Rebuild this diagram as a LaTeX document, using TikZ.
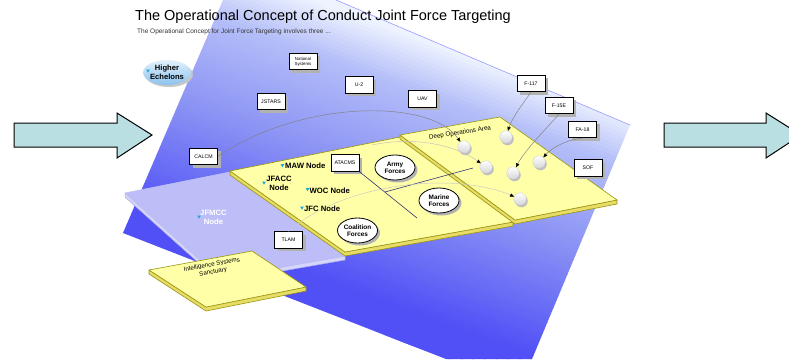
\documentclass[tikz,border=0pt]{standalone}
\usepackage{fontspec}
\setmainfont{Liberation Sans}
\usetikzlibrary{arrows.meta,shadows,shapes.geometric}
\definecolor{arrowfill}{HTML}{BADFE2}
\definecolor{plateY}{HTML}{FFFFA8}
\definecolor{plateYside}{HTML}{E6DC66}
\definecolor{plateYedge}{HTML}{9A9410}
\definecolor{lav}{HTML}{BDBDF8}
\definecolor{lavside}{HTML}{D6D6FB}
\definecolor{lavedge}{HTML}{A4A6EC}
\definecolor{bDk}{HTML}{5050F6}
\definecolor{bM}{HTML}{8C94F4}
\definecolor{bLM}{HTML}{B4BEF8}
\definecolor{bL}{HTML}{EEF3FF}
\definecolor{markc}{HTML}{1CA8DC}
\definecolor{echTop}{HTML}{E2F1FC}
\definecolor{echBot}{HTML}{8CC2EE}
\tikzset{
  bigarrow/.style={draw=black, line width=1pt, fill=arrowfill, line join=miter},
  sysbox/.style={draw=black, line width=0.75pt, fill=white, minimum width=28pt, minimum height=16.5pt,
    inner sep=0pt, align=center, font=\fontsize{5.2}{5.6}\selectfont,
    drop shadow={shadow xshift=3pt, shadow yshift=-3pt, fill=black!30, opacity=1}},
  force/.style={ellipse, draw=black, line width=0.8pt, fill=white, minimum width=40pt, minimum height=25pt,
    inner sep=0pt, align=center, font=\bfseries\fontsize{6.4}{7.2}\selectfont,
    drop shadow={shadow xshift=2.5pt, shadow yshift=-2.5pt, fill=black!30, opacity=1}},
  cyl/.style={circle, minimum size=12.5pt, inner sep=0pt, top color=white, bottom color=black!16, draw=black!22, line width=0.3pt,
    drop shadow={shadow xshift=1.5pt, shadow yshift=-2pt, fill=black!25, opacity=1}},
  nodelbl/.style={font=\bfseries\fontsize{7.7}{8.6}\selectfont, inner sep=0pt, align=center},
  conn/.style={draw=black!50, line width=0.45pt, -{Triangle[length=4pt,width=3.4pt,color=black]}},
  divline/.style={draw=black!55!blue!60!gray, line width=0.6pt},
  sanct/.style={rotate=10, inner sep=0pt, font=\fontsize{6.2}{7}\selectfont},
  cmark/.pic={\fill[markc] (-1.8,-1.3) -- (1.8,-1.3) -- (0,1.7) -- cycle;},
}
\begin{document}
\begin{tikzpicture}[x=1pt,y=-1pt]
\useasboundingbox (0,0) rectangle (789,359);
\clip (0,0) rectangle (789,359);
\fill[white] (0,0) rectangle (789,359);
% big blue plane, banded gradient
\begin{scope}
\clip (223,0) -- (336,0) -- (630,125) -- (532,359) -- (446,359) -- (123,233) -- cycle;
\begin{scope}[shift={(376.5,179.5)}, rotate=-20]
\foreach \p in {-268,-264,...,268} {
  \pgfmathtruncatemacro\ma{max(0,min(100,(\p+115)/1.2))}
  \pgfmathtruncatemacro\mb{max(0,min(100,(\p-5)/0.9))}
  \pgfmathtruncatemacro\mc{max(0,min(100,(\p-95)/0.5))}
  \colorlet{bandA}{bM!\ma!bDk}
  \colorlet{bandB}{bLM!\mb!bandA}
  \colorlet{bandC}{bL!\mc!bandB}
  \fill[bandC] (-700,-\p) rectangle (700,-\p-4.6);
}
\end{scope}
\end{scope}
\draw[blue!40!white, line width=0.6pt] (336,0) -- (630,125);
% side arrows
\draw[bigarrow] (14,123) -- (117,123) -- (117,113) -- (152,135) -- (117,158) -- (117,147) -- (14,147) -- cycle;
\draw[bigarrow] (664,123) -- (766,123) -- (766,113) -- (801,135) -- (766,158) -- (766,147) -- (664,147) -- cycle;
% title
\node[anchor=base west, inner sep=0pt, font=\fontsize{14.5}{16}\selectfont] (title) at (135,20)
  {The Operational Concept of Conduct Joint Force Targeting};
\node[anchor=base west, inner sep=0pt, font=\fontsize{6.5}{7}\selectfont, text=black!80] (subtitle) at (137,33)
  {The Operational Concept for Joint Force Targeting involves three ...};
% lavender JFMCC plate
\fill[lavside, draw=lavedge, line width=0.5pt] (125,193) -- (220,278) -- (345,256) -- (345,260) -- (220,282) -- (125,197) -- cycle;
\fill[lav, draw=lavedge!70!white, line width=0.5pt] (125,193) -- (230,172) -- (345,256) -- (220,278) -- cycle;
% main yellow plate
\fill[plateYside, draw=plateYedge, line width=0.6pt, line join=round]
  (230,171) -- (345,252) -- (513,222) -- (513,226) -- (345,256) -- (230,175) -- cycle;
\fill[plateY, draw=plateYedge, line width=0.6pt, line join=round]
  (230,171) -- (400,137) -- (513,222) -- (345,252) -- cycle;
% deep operations plate
\fill[plateYside, draw=plateYedge, line width=0.6pt, line join=round]
  (400,135) -- (515,220) -- (617,200) -- (617,204) -- (515,224) -- (400,139) -- cycle;
\fill[plateY, draw=plateYedge, line width=0.6pt, line join=round]
  (400,135) -- (500,117) -- (617,200) -- (515,220) -- cycle;
% intelligence plate
\fill[plateYside, draw=plateYedge, line width=0.6pt, line join=round]
  (149,270) -- (206,307) -- (306,287) -- (306,291) -- (206,311) -- (149,274) -- cycle;
\fill[plateY, draw=plateYedge, line width=0.6pt, line join=round]
  (149,270) -- (252,251) -- (306,287) -- (206,307) -- cycle;
\node[sanct, align=center, font=\fontsize{6.2}{7.4}\selectfont] (intel) at (212.5,268.5) {Intelligence Systems\\Sanctuary};
\node[rotate=9, inner sep=0pt, font=\fontsize{6.3}{7}\selectfont] (deep) at (460,133) {Deep Operations Area};
% boxes
\node[sysbox, font=\fontsize{4.4}{4.8}\selectfont] (natsys) at (303,61.5) {National\\Systems};
\node[sysbox] (u2) at (359,85) {U-2};
\node[sysbox] (jstars) at (271,101.5) {JSTARS};
\node[sysbox] (uav) at (422.5,99) {UAV};
\node[sysbox] (calcm) at (203.5,156.5) {CALCM};
\node[sysbox] (atacms) at (345,163) {ATACMS};
\node[sysbox] (tlam) at (288.5,240) {TLAM};
\node[sysbox] (f117) at (531,83.5) {F-117};
\node[sysbox] (f15e) at (559,105.5) {F-15E};
\node[sysbox] (fa18) at (582.5,129.5) {FA-18};
\node[sysbox] (sof) at (588,168) {SOF};
% cylinders
\node[cyl] (c1) at (464,147) {};
\node[cyl] (c2) at (506,137) {};
\node[cyl] (c3) at (486,167) {};
\node[cyl] (c4) at (513,173) {};
\node[cyl] (c5) at (539,162) {};
\node[cyl] (c6) at (520,199) {};
% divider lines
\coordinate (la) at (417,218);
\coordinate (lb1) at (385,192);
\coordinate (lb2) at (473,168);
\coordinate (co1) at (372,145);
\draw[divline] (atacms.south east) -- (la);
\draw[divline] (lb1) -- (lb2);
% connectors
\draw[conn] (calcm.east) .. controls (300,100) and (430,98) .. (c1);
\draw[conn, draw=black!25] (co1) .. controls (415,136) and (455,145) .. (c3);
\draw[conn, draw=black!22] (tlam.north) .. controls (340,185) and (450,170) .. (c6);
\draw[conn] (f117.south) .. controls (522,105) and (512,118) .. (c2);
\draw[conn] (f15e.south) .. controls (545,130) and (525,150) .. (c4);
\draw[conn] (fa18.south) .. controls (565,140) and (552,148) .. (c5);
% force ellipses
\node[force] (army) at (395,167.5) {Army\\Forces};
\node[force] (marine) at (439,200.5) {Marine\\Forces};
\node[force] (coal) at (357.5,230.5) {Coalition\\Forces};
% higher echelons
\node[ellipse, minimum width=40pt, minimum height=25pt, inner sep=0pt, top color=echTop, bottom color=echBot,
  drop shadow={shadow xshift=2pt, shadow yshift=-2pt, fill=black!22, opacity=1}, align=center,
  font=\bfseries\fontsize{7.6}{8.6}\selectfont] (higher) at (167,72.5) {Higher\\Echelons};
\pic at (148,71) {cmark};
% node labels
\node[nodelbl, anchor=west] (maw) at (285,166) {MAW Node};
\pic at (282.5,165.5) {cmark};
\node[nodelbl] (jfacc) at (279,183.5) {JFACC\\Node};
\pic at (264,183) {cmark};
\node[nodelbl, anchor=west] (woc) at (309.5,190.5) {WOC Node};
\pic at (307.5,189.5) {cmark};
\node[nodelbl, anchor=west] (jfc) at (304,208.5) {JFC Node};
\pic at (302,208) {cmark};
\node[nodelbl, text=white] (jfmcc) at (213.5,217.5) {JFMCC\\Node};
\pic at (199,217) {cmark};
\end{tikzpicture}
\end{document}
